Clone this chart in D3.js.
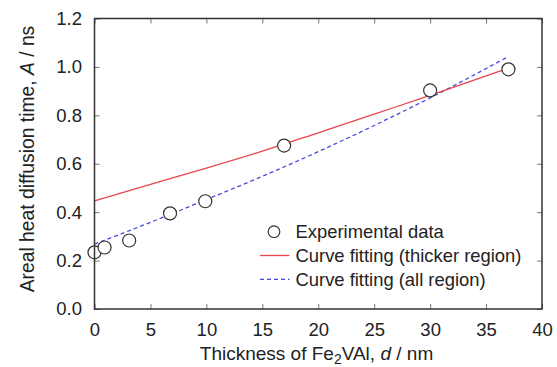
<!DOCTYPE html>
<html>
<head>
<meta charset="utf-8">
<script src="https://cdn.jsdelivr.net/npm/d3@7"></script>
<style>
  body { margin: 0; background: #fff; }
  svg { display: block; font-family: "Liberation Sans", Arial, Helvetica, sans-serif; }
</style>
</head>
<body>
<div id="chart"></div>
<script>
// measured points
const thickness = [0, 0.9, 3.1, 6.75, 9.9, 16.95, 30.0, 37.0];
const diffusionTime = [0.234, 0.254, 0.283, 0.395, 0.445, 0.675, 0.903, 0.990];

// fitted curves
const fitD = [0, 5, 10, 15, 20, 25, 30, 37];
const fitThicker = [0.447, 0.515, 0.582, 0.652, 0.728, 0.805, 0.882, 0.995];
const fitAll = [0.268, 0.358, 0.452, 0.548, 0.650, 0.758, 0.872, 1.043];

const xTicks = [0, 5, 10, 15, 20, 25, 30, 35, 40];
const yTicks = [0, 0.2, 0.4, 0.6, 0.8, 1.0, 1.2];

const legendLabels = ["Experimental data", "Curve fitting (thicker region)", "Curve fitting (all region)"];

const W = 557, H = 367;
const margin = {top: 18.5, right: 15, bottom: 58, left: 94.5},
    width = W - margin.left - margin.right,
    height = H - margin.top - margin.bottom;

const red = "#e8444a", blue = "#4848e0", axisCol = "#333";

const svg = d3.select("#chart").append("svg")
    .attr("width", W)
    .attr("height", H);

const g = svg.append("g")
    .attr("transform", "translate(" + margin.left + "," + margin.top + ")");

const x = d3.scaleLinear().domain([0, 40]).range([0, width]);
const y = d3.scaleLinear().domain([0, 1.2]).range([height, 0]);

// ticks on all four sides, pointing inwards
function styleAxis(sel) {
    sel.select(".domain").remove();
    sel.selectAll(".tick line").attr("stroke", "#777").attr("stroke-width", 1);
    sel.selectAll(".tick text").attr("fill", "#222").attr("font-size", 18.5);
}

g.append("g")
    .attr("transform", "translate(0," + height + ")")
    .call(d3.axisBottom(x).tickValues(xTicks).tickFormat(d3.format("d")).tickSizeInner(-5).tickPadding(14))
    .call(styleAxis);

g.append("g")
    .call(d3.axisTop(x).tickValues(xTicks).tickFormat("").tickSizeInner(-5))
    .call(styleAxis);

g.append("g")
    .call(d3.axisLeft(y).tickValues(yTicks).tickFormat(d3.format(".1f")).tickSizeInner(-5).tickPadding(12.5))
    .call(styleAxis);

g.append("g")
    .attr("transform", "translate(" + width + ",0)")
    .call(d3.axisRight(y).tickValues(yTicks).tickFormat("").tickSizeInner(-5))
    .call(styleAxis);

// curves
const line = d3.line().x(d => x(d[0])).y(d => y(d[1])).curve(d3.curveMonotoneX);

g.append("path")
    .datum(fitD.map((d, i) => [d, fitAll[i]]))
    .attr("d", line)
    .attr("fill", "none")
    .attr("stroke", blue)
    .attr("stroke-width", 1.3)
    .attr("stroke-dasharray", "4,3");

g.append("path")
    .datum(fitD.map((d, i) => [d, fitThicker[i]]))
    .attr("d", line)
    .attr("fill", "none")
    .attr("stroke", red)
    .attr("stroke-width", 1.3);

// experimental points
g.selectAll(".pt")
    .data(thickness.map((d, i) => [d, diffusionTime[i]]))
    .enter().append("circle")
    .attr("class", "pt")
    .attr("cx", d => x(d[0]))
    .attr("cy", d => y(d[1]))
    .attr("r", 6.5)
    .attr("fill", "#fff")
    .attr("stroke", "#333")
    .attr("stroke-width", 1.2);

// frame
g.append("rect")
    .attr("width", width)
    .attr("height", height)
    .attr("fill", "none")
    .attr("stroke", axisCol)
    .attr("stroke-width", 1.5);

// legend
const legend = g.append("g")
    .attr("transform", "translate(" + (260 - margin.left) + "," + (231.7 - margin.top) + ")");

const rows = legend.selectAll("g")
    .data(legendLabels)
    .enter().append("g")
    .attr("transform", (d, i) => "translate(0," + i * 23.8 + ")");

rows.append("text")
    .attr("x", 35.5)
    .attr("dy", "0.36em")
    .attr("font-size", 18.4)
    .attr("fill", "#222")
    .text(d => d);

legend.append("circle")
    .attr("cx", 14).attr("cy", 0).attr("r", 5.8)
    .attr("fill", "#fff").attr("stroke", "#333").attr("stroke-width", 1.2);

legend.append("line")
    .attr("x1", 0).attr("x2", 29.5).attr("y1", 23.8).attr("y2", 23.8)
    .attr("stroke", red).attr("stroke-width", 1.3);

legend.append("line")
    .attr("x1", 0).attr("x2", 29.5).attr("y1", 47.6).attr("y2", 47.6)
    .attr("stroke", blue).attr("stroke-width", 1.3).attr("stroke-dasharray", "4,3");

// axis titles
const xTitle = svg.append("text")
    .attr("x", 316.5)
    .attr("y", 359.5)
    .attr("text-anchor", "middle")
    .attr("font-size", 19)
    .attr("fill", "#222");
xTitle.append("tspan").text("Thickness of Fe");
xTitle.append("tspan").attr("font-size", 14).attr("dy", 4).text("2");
xTitle.append("tspan").attr("dy", -4).text("VAl, ");
xTitle.append("tspan").attr("font-style", "italic").text("d");
xTitle.append("tspan").text(" / nm");

const yTitle = svg.append("text")
    .attr("transform", "translate(34,159) rotate(-90)")
    .attr("text-anchor", "middle")
    .attr("font-size", 19.3)
    .attr("fill", "#222");
yTitle.append("tspan").text("Areal heat diffusion time, ");
yTitle.append("tspan").attr("font-style", "italic").text("A");
yTitle.append("tspan").text(" / ns");
</script>
</body>
</html>
